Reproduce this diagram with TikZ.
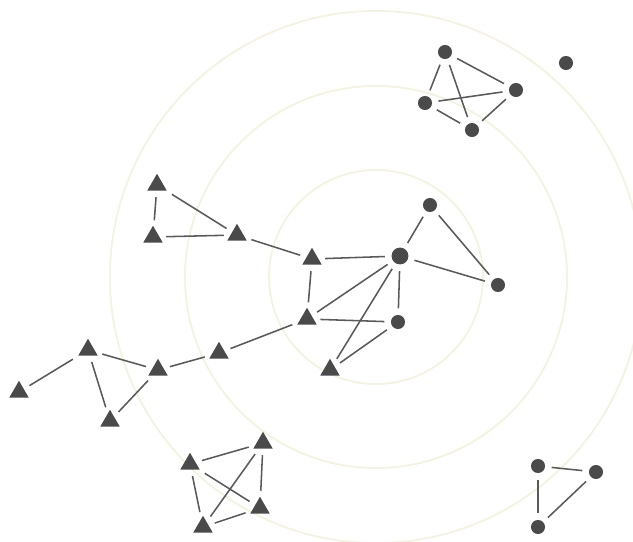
\documentclass[tikz,border=0pt]{standalone}
\usetikzlibrary{shapes.geometric}
\definecolor{lead}{HTML}{4A4A4A}
\definecolor{stroke}{HTML}{5A5A5A}
\definecolor{halo}{HTML}{F5F2DF}
\tikzset{
  tri/.style={regular polygon, regular polygon sides=3, fill=lead, inner sep=0pt, minimum size=16pt},
  dot/.style={circle, fill=lead, inner sep=0pt, minimum size=10pt},
  lnk/.style={draw=stroke, line width=1.1pt, shorten <=4.5pt, shorten >=4.5pt},
  ring/.style={draw=halo, line width=1.3pt},
}
\begin{document}
\begin{tikzpicture}[x=0.025cm,y=-0.025cm]
\useasboundingbox (0,0) rectangle (633,541);

% ---------------- rings ----------------
\coordinate (hub) at (376,277);
\draw[ring] (hub) circle [radius=2.675cm];
\draw[ring] (hub) circle [radius=4.775cm];
\draw[ring] (hub) circle [radius=6.65cm];

% ---------------- top right group ----------------
\node[dot] (c1) at (445,52) {};
\node[dot] (c2) at (425,103) {};
\node[dot] (c3) at (516,90) {};
\node[dot] (c4) at (472,130) {};
\node[dot] (c5) at (566,63) {};

% ---------------- left upper triangles ----------------
\node[tri] (t1) at (157,185) {};
\node[tri] (t2) at (153,237) {};
\node[tri] (t3) at (237,235) {};

% ---------------- centre ----------------
\node[tri] (t4) at (312,259) {};
\node[tri] (t5) at (307,319) {};
\node[tri] (t6) at (330,370) {};
\node[dot, minimum size=12pt] (c6) at (400,256) {};
\node[dot] (c7) at (430,205) {};
\node[dot] (c8) at (498,285) {};
\node[dot] (c9) at (398,322) {};

% ---------------- left lower chain ----------------
\node[tri] (t8) at (219,353) {};
\node[tri] (t9) at (158,370) {};
\node[tri] (t10) at (88,350) {};
\node[tri] (t11) at (19,392) {};
\node[tri] (t12) at (110,421) {};

% ---------------- bottom group ----------------
\node[tri] (b1) at (190,464) {};
\node[tri] (b2) at (263,443) {};
\node[tri] (b3) at (260,508) {};
\node[tri] (b4) at (203,527) {};

% ---------------- bottom right group ----------------
\node[dot] (r1) at (538,466) {};
\node[dot] (r2) at (596,472) {};
\node[dot] (r3) at (538,527) {};

% ---------------- links ----------------
\draw[lnk] (c1) -- (c2);
\draw[lnk] (c1) -- (c3);
\draw[lnk] (c1) -- (c4);
\draw[lnk] (c2) -- (c3);
\draw[lnk] (c2) -- (c4);
\draw[lnk] (c4) -- (c3);

\draw[lnk] (t1) -- (t2);
\draw[lnk] (t1) -- (t3);
\draw[lnk] (t3) -- (t2);
\draw[lnk] (t3) -- (t4);

\draw[lnk] (t4) -- (c6);
\draw[lnk] (t4) -- (t5);
\draw[lnk] (t5) -- (c6);
\draw[lnk] (t5) -- (c9);
\draw[lnk] (c6) -- (c9);
\draw[lnk] (c6) -- (t6);
\draw[lnk] (c9) -- (t6);
\draw[lnk] (c6) -- (c7);
\draw[lnk] (c7) -- (c8);
\draw[lnk] (c6) -- (c8);

\draw[lnk] (t5) -- (t8);
\draw[lnk] (t8) -- (t9);
\draw[lnk] (t10) -- (t9);
\draw[lnk] (t10) -- (t11);
\draw[lnk] (t10) -- (t12);
\draw[lnk] (t9) -- (t12);

\draw[lnk] (b1) -- (b2);
\draw[lnk] (b1) -- (b3);
\draw[lnk] (b1) -- (b4);
\draw[lnk] (b2) -- (b4);
\draw[lnk] (b2) -- (b3);
\draw[lnk] (b3) -- (b4);

\draw[lnk] (r1) -- (r2);
\draw[lnk] (r1) -- (r3);
\draw[lnk] (r2) -- (r3);

\end{tikzpicture}
\end{document}
